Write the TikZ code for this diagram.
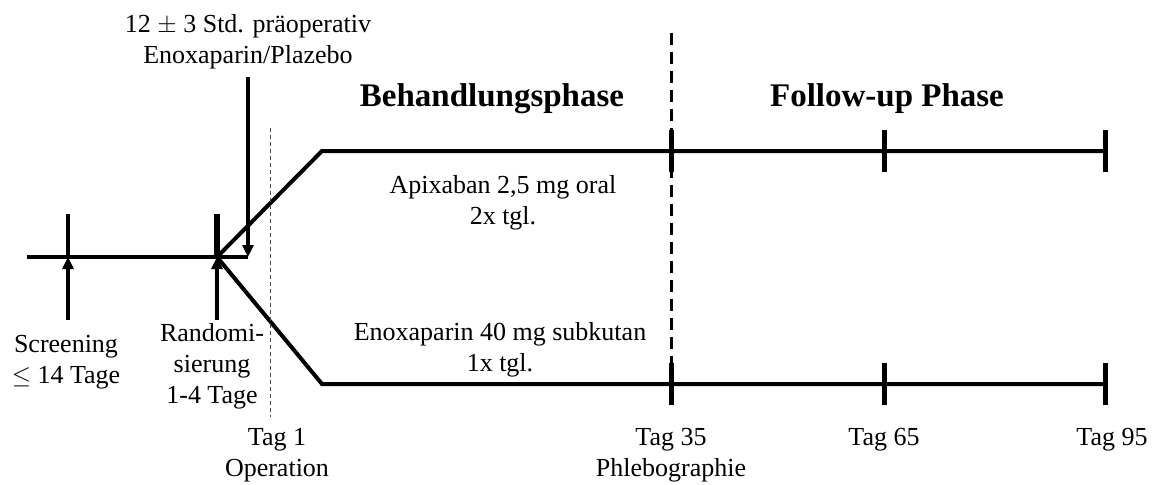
\documentclass[tikz,border=0pt]{standalone}
\usepackage{fontspec}
\setmainfont{Liberation Serif}
\usetikzlibrary{arrows.meta}
\begin{document}
\begin{tikzpicture}[x=1pt,y=-1pt,
  lbl/.style={align=center,font=\fontsize{26}{31}\selectfont,inner sep=0pt},
  title/.style={font=\fontsize{33}{38}\selectfont\bfseries,inner sep=0pt},
  axis/.style={line width=4pt},
  tick/.style={line width=5pt},
  upar/.style={line width=4pt,-{Triangle[width=11pt,length=12pt]}},
  tdash/.style={line width=3pt,dash pattern=on 12pt off 7pt},
  fdash/.style={line width=1pt,dash pattern=on 4pt off 3pt,black!70}]
\useasboundingbox (0,0) rectangle (1155,484);
% coordinates
\coordinate (L0) at (27,257);
\coordinate (S) at (68,257);
\coordinate (R) at (217,257);
\coordinate (D) at (248,257);
\coordinate (Uk) at (322,151);
\coordinate (Lk) at (322,384);
\coordinate (U35) at (671,151);
\coordinate (U65) at (884,151);
\coordinate (U95) at (1105,151);
\coordinate (B35) at (671,384);
\coordinate (B65) at (884,384);
\coordinate (B95) at (1105,384);
% axes
\draw[axis] (L0) -- (D);
\draw[axis,line join=miter] (R) -- (Uk) -- (U95);
\draw[axis,line join=miter] (R) -- (Lk) -- (B95);
% ticks
\draw[line width=4pt] (68,214) -- (S);
\draw[line width=6pt] (217,214) -- (R);
\foreach \c in {U35,U65,U95,B35,B65,B95}{
  \draw[tick] ([yshift=-21pt]\c) -- ([yshift=21pt]\c);
}
% dashed lines
\coordinate (DT) at (671,33);
\coordinate (DB) at (671,363);
\draw[tdash] (DT) -- (DB);
\coordinate (FT) at (270,128);
\coordinate (FB) at (270,417);
\draw[fdash] (FT) -- (FB);
% arrows
\coordinate (SA) at (68,320);
\coordinate (RA) at (217,320);
\coordinate (DA) at (248,77);
\draw[upar] (SA) -- (S);
\draw[upar] (RA) -- (R);
\draw[upar] (DA) -- (D);
% texts
\node[lbl] (pre) at (248,42) {12 $\pm$ 3 Std. präoperativ\\Enoxaparin/Plazebo};
\node[title] (beh) at (492,99) {Behandlungsphase};
\node[title] (fol) at (887,99) {Follow-up Phase};
\node[lbl] (api) at (503,203) {Apixaban 2,5 mg oral\\2x tgl.};
\node[lbl] (eno) at (500,350) {Enoxaparin 40 mg subkutan\\1x tgl.};
\node[lbl] (scr) at (66,362) {Screening\\$\leq$ 14 Tage};
\node[lbl] (ran) at (212,366) {Randomi-\\sierung\\1-4 Tage};
\node[lbl] (t1) at (277,455) {Tag 1\\Operation};
\node[lbl] (t35) at (671,455) {Tag 35\\Phlebographie};
\node[lbl] (t65) at (884,440) {Tag 65};
\node[lbl] (t95) at (1112,440) {Tag 95};
\end{tikzpicture}
\end{document}
